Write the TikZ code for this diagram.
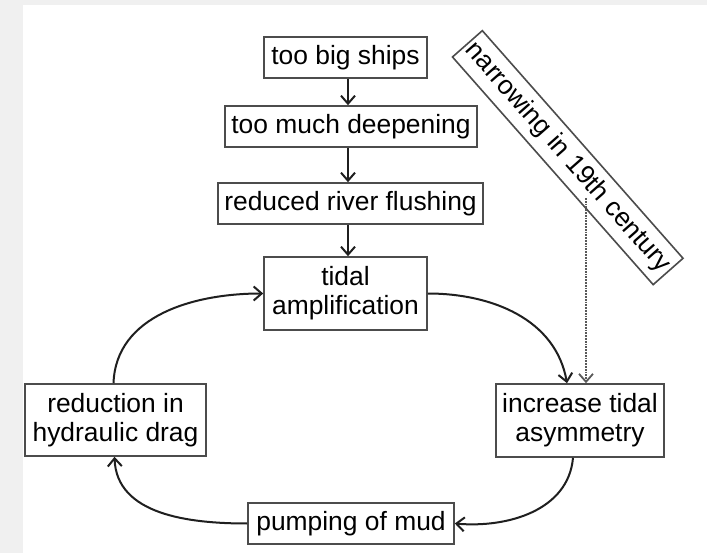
\documentclass[tikz,border=0pt]{standalone}
\usepackage{fontspec}
\setmainfont{Liberation Sans}
\usetikzlibrary{arrows.meta}
\begin{document}
\begin{tikzpicture}[x=1pt,y=-1pt,
  box/.style={draw=black!70,line width=1.6pt,fill=white,inner sep=0pt,align=center,
    font=\fontsize{26.4}{29}\selectfont},
  arr/.style={draw=black!88,line width=2pt,
    -{Straight Barb[length=8pt,width=14pt,line width=2pt]}},
  dotarr/.style={draw=black!65,line width=1.8pt,densely dotted,
    -{Straight Barb[length=8pt,width=14pt,line width=1.8pt]}}]
\fill[black!6] (0,0) rectangle (707,553);
\fill[white] (23,5) rectangle (707,553);
\useasboundingbox (0,0) rectangle (707,553);

\node[box,minimum width=163pt,minimum height=41pt] (ships) at (345.5,57.5) {too big ships};
\node[box,minimum width=252pt,minimum height=41pt] (deep) at (351,126.5) {too much deepening};
\node[box,minimum width=265pt,minimum height=41pt] (flush) at (350.5,203.5) {reduced river flushing};
\node[box,minimum width=163pt,minimum height=73pt] (tidal) at (345.5,293.5) {tidal\\amplification};
\node[box,minimum width=181pt,minimum height=72pt] (red) at (115.5,420) {reduction in\\hydraulic drag};
\node[box,minimum width=168pt,minimum height=73pt] (incr) at (580,420.5) {increase tidal\\asymmetry};
\node[box,minimum width=206pt,minimum height=41pt] (pump) at (351,523.5) {pumping of mud};
\node[box,minimum width=303.5pt,minimum height=39.8pt,rotate=-48.6] (narrow) at (567.75,157.65) {narrowing in 19th century};

\coordinate (xa) at (348,0);
\coordinate (dotstart) at (586,198);

\draw[arr] (ships.south -| xa) -- (deep.north -| xa);
\draw[arr] (deep.south -| xa) -- (flush.north -| xa);
\draw[arr] (flush.south -| xa) -- (tidal.north -| xa);

\draw[arr] (tidal.east) to[out=0,in=100] ([xshift=-13pt]incr.north);
\draw[arr] ([xshift=-7pt]incr.south) to[out=-95,in=-5] (pump.east);
\draw[arr] (pump.west) to[out=180,in=-88] ([xshift=-1pt]red.south);
\draw[arr] ([xshift=-2pt]red.north) to[out=88,in=180] (tidal.west);

\draw[dotarr] (dotstart) -- (dotstart |- incr.north);
\end{tikzpicture}
\end{document}
